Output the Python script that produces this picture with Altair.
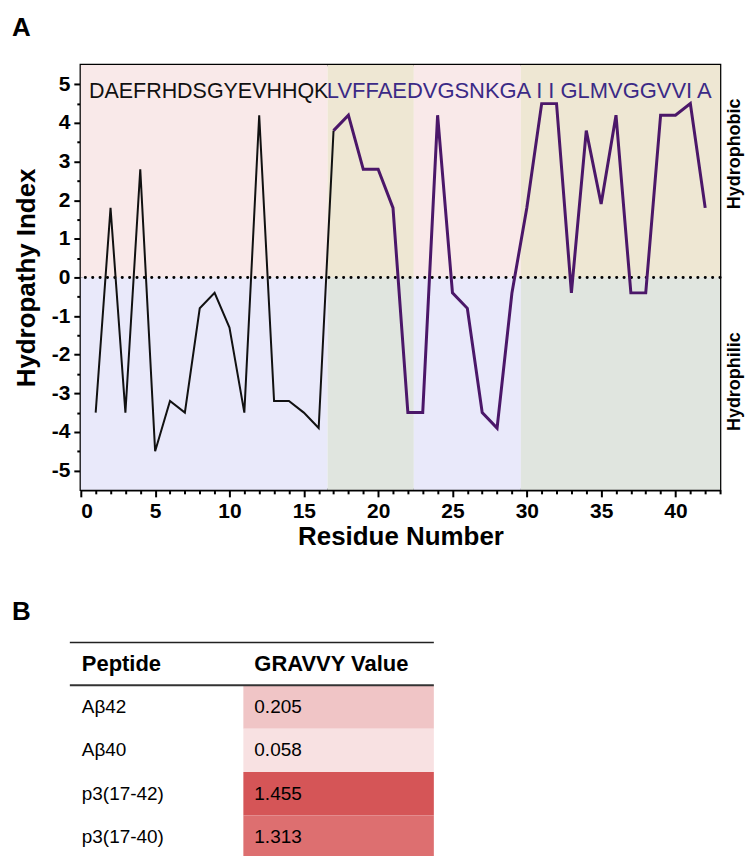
import altair as alt
import pandas as pd

FONT = "Liberation Sans"

# ---------------- data: panel A ----------------
residues = list(range(1, 43))
sequence = list("DAEFRHDSGYEVHHQKLVFFAEDVGSNKGAIIGLMVGGVVIA")
hydropathy = [-3.5, 1.8, -3.5, 2.8, -4.5, -3.2, -3.5, -0.8, -0.4, -1.3,
              -3.5, 4.2, -3.2, -3.2, -3.5, -3.9, 3.8, 4.2, 2.8, 2.8,
              1.8, -3.5, -3.5, 4.2, -0.4, -0.8, -3.5, -3.9, -0.4, 1.8,
              4.5, 4.5, -0.4, 3.8, 1.9, 4.2, -0.4, -0.4, 4.2, 4.2,
              4.5, 1.8]
n_term_last = 17          # black trace runs 1..17, purple 17..42

region_start = [0, 16.6, 22.4, 29.6]
region_end = [16.6, 22.4, 29.6, 43]
upper_fill = ["#F9E9E9", "#EEE7D3", "#F9E9E9", "#EEE7D3"]
lower_fill = ["#E9E9FA", "#E0E5DF", "#E9E9FA", "#E0E5DF"]

seq_parts = ["DAEFRHDSGYEVHHQK", "LVFFAEDVGSNKGA I I GLMVGGVVI A"]
seq_starts = [0.55, 16.55]
seq_sizes = [21.5, 22]
seq_colors = ["#111111", "#3B2A86"]

side_labels = ["Hydrophobic", "Hydrophilic"]
side_y = [3.2, -2.7]

# ---------------- data: panel B ----------------
peptides = ["Aβ42", "Aβ40", "p3(17-42)", "p3(17-40)"]
gravy = [0.205, 0.058, 1.455, 1.313]
header = ["Peptide", "GRAVVY Value"]

# ---------------- panel A ----------------
W, H = 641, 426
x_dom = [0, 43]
y_dom = [-5.5, 5.5]

x_axis = alt.Axis(
    values=list(range(0, 44)),
    labelExpr="datum.value % 5 === 0 ? datum.label : ''",
    tickSize={"condition": {"test": "datum.value % 5 === 0", "value": 7}, "value": 4},
    tickWidth=2, tickColor="black",
    domainColor="black", domainWidth=2.5,
    labelFont=FONT, labelFontSize=21, labelFontWeight="bold", labelColor="black",
    labelPadding=4, labelOverlap=False, grid=False,
    title="Residue Number", titleFont=FONT, titleFontSize=26,
    titleFontWeight="bold", titleColor="black", titlePadding=2,
)
y_vals = [v / 2 for v in range(-10, 11)]
y_axis = alt.Axis(
    values=y_vals,
    labelExpr="datum.value % 1 === 0 ? '' + datum.value : ''",
    tickSize={"condition": {"test": "datum.value % 1 === 0", "value": 7}, "value": 4},
    tickWidth=2, tickColor="black",
    domainColor="black", domainWidth=2.5,
    labelFont=FONT, labelFontSize=21, labelFontWeight="bold", labelColor="black",
    labelPadding=4, labelOverlap=False, grid=False,
    title="Hydropathy Index", titleFont=FONT, titleFontSize=26,
    titleFontWeight="bold", titleColor="black", titlePadding=12,
)


def X(field):
    return alt.X(field, type="quantitative", scale=alt.Scale(domain=x_dom, nice=False, zero=False), axis=x_axis)


def Y(field):
    return alt.Y(field, type="quantitative", scale=alt.Scale(domain=y_dom, nice=False, zero=False), axis=y_axis)


bg_rows = []
for s, e, uf, lf in zip(region_start, region_end, upper_fill, lower_fill):
    bg_rows.append({"x0": s, "x1": e, "y0": 0, "y1": 5.5, "fill": uf})
    bg_rows.append({"x0": s, "x1": e, "y0": -5.5, "y1": 0, "fill": lf})
bg_df = pd.DataFrame(bg_rows)

bg = alt.Chart(bg_df).mark_rect().encode(
    x=X("x0"), x2="x1", y=Y("y0"), y2="y1",
    color=alt.Color("fill:N", scale=None),
)

zero = alt.Chart(pd.DataFrame({"y": [0]})).mark_rule(
    color="black", strokeWidth=3, strokeDash=[0.1, 7.3], strokeCap="round"
).encode(y=Y("y"))

prof = pd.DataFrame({"residue": residues, "aa": sequence, "hyd": hydropathy})
black_line = alt.Chart(prof[prof.residue <= n_term_last]).mark_line(
    color="#111111", strokeWidth=2
).encode(x=X("residue"), y=Y("hyd"))
purple_line = alt.Chart(prof[prof.residue >= n_term_last]).mark_line(
    color="#4B1769", strokeWidth=3
).encode(x=X("residue"), y=Y("hyd"))

seq_df = pd.DataFrame({"txt": seq_parts, "x": seq_starts, "col": seq_colors,
                       "size": seq_sizes, "y": [4.64, 4.64]})
seq_text = alt.Chart(seq_df).mark_text(
    align="left", baseline="alphabetic", font=FONT
).encode(x=X("x"), y=Y("y"), text="txt:N", color=alt.Color("col:N", scale=None),
         size=alt.Size("size:Q", scale=None))

side_df = pd.DataFrame({"label": side_labels, "y": side_y})
side_text = alt.Chart(side_df).mark_text(
    angle=270, align="center", baseline="middle", font=FONT, fontSize=18,
    fontWeight="bold", color="black"
).encode(x=alt.value(W + 15), y=Y("y"), text="label:N")

a_label = alt.Chart(pd.DataFrame({"t": ["A"]})).mark_text(
    align="left", baseline="alphabetic", font=FONT, fontSize=26,
    fontWeight="bold", color="black"
).encode(x=alt.value(-69), y=alt.value(-29), text="t:N")

panel_a = alt.layer(bg, zero, black_line, purple_line, seq_text, side_text, a_label).properties(
    width=W, height=H,
    view=alt.ViewBackground(stroke="black", strokeWidth=2.5),
)

# ---------------- panel B ----------------
# panel B shares panel A's left origin; table spans -11 .. 354 px
WB, HB = 354, 174
tab = pd.DataFrame({"peptide": peptides, "gravy": gravy})
ysc = alt.Y("peptide:N", sort=peptides, axis=None,
            scale=alt.Scale(paddingInner=0, paddingOuter=0))

cells = alt.Chart(tab).mark_rect().encode(
    y=ysc, x=alt.value(163), x2=alt.value(354),
    color=alt.Color("gravy:Q", legend=None,
                    scale=alt.Scale(domain=[0.058, 0.205, 1.313, 1.455],
                                    range=["#F8E1E2", "#F0C5C6", "#DD6F70", "#D55557"])),
)
pep_text = alt.Chart(tab).mark_text(
    align="left", baseline="middle", font=FONT, fontSize=19, color="black"
).encode(y=ysc, x=alt.value(1), text="peptide:N")
val_text = alt.Chart(tab).mark_text(
    align="left", baseline="middle", font=FONT, fontSize=19, color="black"
).encode(y=ysc, x=alt.value(174), text=alt.Text("gravy:Q", format=".3f"))

hdr1 = alt.Chart(pd.DataFrame({"h": [header[0]]})).mark_text(
    align="left", baseline="middle", font=FONT, fontSize=22, fontWeight="bold", color="black"
).encode(x=alt.value(1), y=alt.value(-21), text="h:N")
hdr2 = alt.Chart(pd.DataFrame({"h": [header[1]]})).mark_text(
    align="left", baseline="middle", font=FONT, fontSize=22, fontWeight="bold", color="black"
).encode(x=alt.value(174), y=alt.value(-21), text="h:N")

top_rule = alt.Chart(pd.DataFrame({"r": [1]})).mark_rule(color="#222222", strokeWidth=1.5).encode(
    x=alt.value(-11), x2=alt.value(354), y=alt.value(-43))
mid_rule = alt.Chart(pd.DataFrame({"r": [1]})).mark_rule(color="#333333", strokeWidth=2).encode(
    x=alt.value(-11), x2=alt.value(354), y=alt.value(0))

b_label = alt.Chart(pd.DataFrame({"t": ["B"]})).mark_text(
    align="left", baseline="alphabetic", font=FONT, fontSize=26,
    fontWeight="bold", color="black"
).encode(x=alt.value(-69), y=alt.value(-65), text="t:N")

panel_b = alt.layer(cells, pep_text, val_text, hdr1, hdr2, top_rule, mid_rule, b_label).properties(
    width=WB, height=HB,
    view=alt.ViewBackground(stroke="transparent"),
)

chart = alt.vconcat(panel_a, panel_b, spacing=47).properties(
    padding={"left": 2, "top": 4, "right": 0, "bottom": 0}
).configure(background="white")

chart.save("out.html", embed_options={"renderer": "svg", "actions": False})
